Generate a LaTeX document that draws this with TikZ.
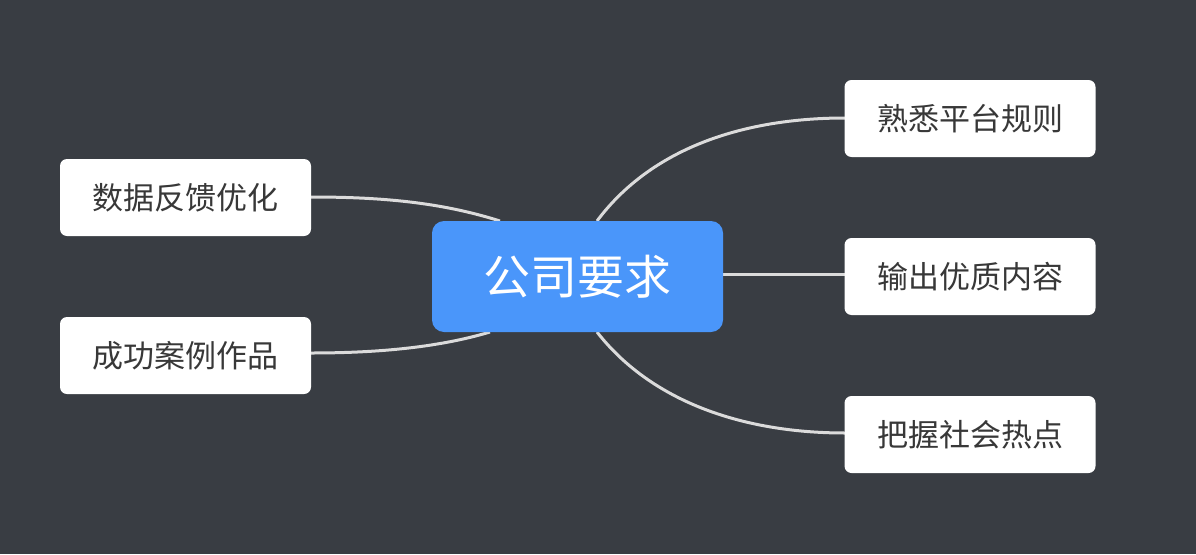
\documentclass[tikz,border=0pt]{standalone}
\usepackage{fontspec}
\newfontfamily\cjk{Noto Sans CJK SC}
\begin{document}
\begin{tikzpicture}[x=1pt,y=-1pt,
 leaf/.style={fill=white,rounded corners=7pt,minimum width=251pt,minimum height=77pt,inner sep=0,font=\cjk\fontsize{31}{34}\selectfont,text=black!78},
 conn/.style={draw=black!14,line width=3pt}]
\fill[fill={rgb,255:red,57;green,61;blue,67}] (0,0) rectangle (1196,554);
\useasboundingbox (0,0) rectangle (1196,554);
\coordinate (a1) at (597,221); \coordinate (a2) at (597,332);
\coordinate (a3) at (500,221); \coordinate (a4) at (490,332);
\draw[conn] (a1) .. controls (650,150) and (740,118) .. (845,118);
\draw[conn] (a2) .. controls (650,400) and (740,433) .. (845,433);
\draw[conn] (600,274) -- (845,274);
\draw[conn] (a3) .. controls (440,202) and (380,197) .. (311,197);
\draw[conn] (a4) .. controls (440,347) and (380,353) .. (311,353);
\node[fill={rgb,255:red,74;green,150;blue,250},rounded corners=12pt,minimum width=291pt,minimum height=111pt,text=white,font=\cjk\fontsize{47}{52}\selectfont] (c) at (577.5,276.5) {公司要求};
\node[leaf] (r1) at (970,118.5) {熟悉平台规则};
\node[leaf] (r2) at (970,276.5) {输出优质内容};
\node[leaf] (r3) at (970,434.5) {把握社会热点};
\node[leaf] (l1) at (185.5,197.5) {数据反馈优化};
\node[leaf] (l2) at (185.5,355.5) {成功案例作品};
\end{tikzpicture}
\end{document}
